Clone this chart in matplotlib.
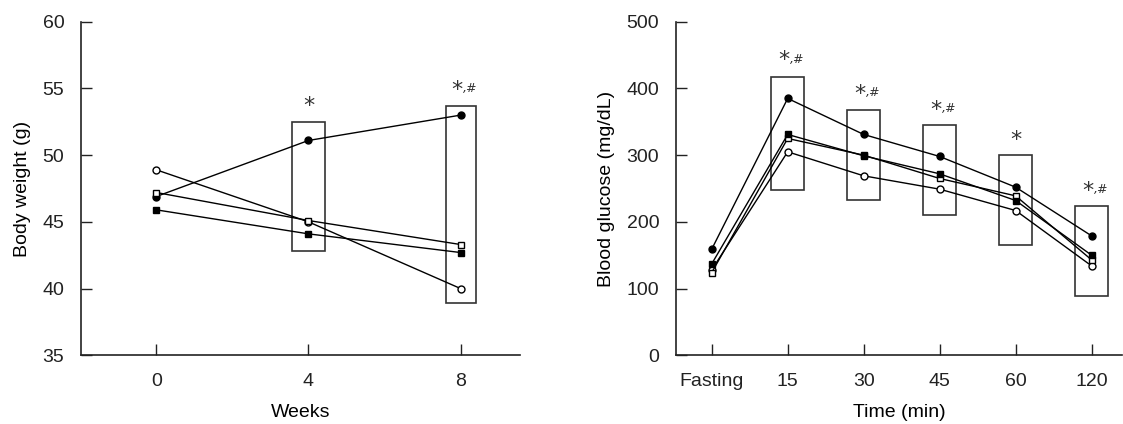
import matplotlib
matplotlib.use('Agg')
import matplotlib.pyplot as plt
from matplotlib.patches import Rectangle

plt.rcParams['font.family'] = ['Liberation Sans Narrow', 'Liberation Sans', 'DejaVu Sans']

# body weight panel
weeks = [0, 4, 8]
bw_filled_circle = [46.9, 51.1, 53.0]
bw_open_circle = [48.9, 45.0, 40.0]
bw_open_square = [47.2, 45.1, 43.3]
bw_filled_square = [45.9, 44.1, 42.7]
bw_box_weeks = [4, 8]
bw_box_low = [42.8, 38.9]
bw_box_high = [52.45, 53.7]
bw_marks = ['*', '*,#']
bw_mark_y = [53.7, 54.9]

# glucose panel
times = ['Fasting', '15', '30', '45', '60', '120']
bg_filled_circle = [159, 385, 331, 298, 252, 179]
bg_filled_square = [137, 331, 299, 272, 232, 150]
bg_open_square = [124, 325, 300, 265, 239, 143]
bg_open_circle = [128, 305, 269, 249, 217, 134]
bg_box_idx = [1, 2, 3, 4, 5]
bg_box_low = [247.7, 232.8, 210.3, 165.3, 88.9]
bg_box_high = [417.6, 367.6, 345.0, 300.7, 223.8]
bg_marks = ['*,#', '*,#', '*,#', '*', '*,#']
bg_mark_y = [442, 392, 368, 323, 246]

BOX_COLOR = '#333333'


def draw_series(ax, x, ys):
    styles = [('o', 'black'), ('o', 'white'), ('s', 'white'), ('s', 'black')]
    for y, (m, fc) in zip(ys, styles):
        ax.plot(x, y, color='black', lw=1.0, marker=m, markersize=5,
                markerfacecolor=fc, markeredgecolor='black', markeredgewidth=1.0, zorder=3)


def mark(ax, x, y, s):
    if s == '*':
        ax.text(x, y, '*', ha='center', va='center', fontsize=16, family='DejaVu Sans', color='#333333')
    else:
        # asterisk followed by a small comma and a raised sharp sign
        ax.annotate('*', (x, y), xytext=(-3, 0), textcoords='offset points', ha='center', va='center',
                    fontsize=16, family='DejaVu Sans', color='#333333')
        ax.annotate(',#', (x, y), xytext=(1.5, 1), textcoords='offset points', ha='left', va='center',
                    fontsize=9, style='italic', family='DejaVu Sans', color='#333333')


def style_axes(ax):
    ax.spines['top'].set_visible(False)
    ax.spines['right'].set_visible(False)
    for sp in ('left', 'bottom'):
        ax.spines[sp].set_linewidth(1.2)
        ax.spines[sp].set_color('#222222')
    ax.tick_params(direction='in', length=8, width=1.0, labelsize=14, colors='#222222')
    ax.tick_params(axis='y', pad=12)
    ax.tick_params(axis='x', pad=13)


fig = plt.figure(figsize=(11.23, 4.24), dpi=100)

ax1 = fig.add_axes([81 / 1123, 1 - 355.3 / 424, (520 - 81) / 1123, (355.3 - 21.7) / 424])
draw_series(ax1, weeks, [bw_filled_circle, bw_open_circle, bw_open_square, bw_filled_square])
box_w1 = [0.89, 0.79]
for w, lo, hi, bw in zip(bw_box_weeks, bw_box_low, bw_box_high, box_w1):
    ax1.add_patch(Rectangle((w - bw / 2, lo), bw, hi - lo, fill=False, ec=BOX_COLOR, lw=1.2, zorder=2))
for w, y, s in zip(bw_box_weeks, bw_mark_y, bw_marks):
    mark(ax1, w, y, s)
ax1.set_xlim(-1.98, 9.56)
ax1.set_ylim(35, 60)
ax1.set_xticks(weeks)
ax1.set_yticks([35, 40, 45, 50, 55, 60])
ax1.set_xlabel('Weeks', fontsize=14, labelpad=10)
ax1.set_ylabel('Body weight (g)', fontsize=14, labelpad=8)
style_axes(ax1)

ax2 = fig.add_axes([676 / 1123, 1 - 355.3 / 424, (1122 - 676) / 1123, (355.3 - 21.7) / 424])
xs = list(range(len(times)))
draw_series(ax2, xs, [bg_filled_circle, bg_open_circle, bg_open_square, bg_filled_square])
bw2 = 0.433
for i, lo, hi in zip(bg_box_idx, bg_box_low, bg_box_high):
    ax2.add_patch(Rectangle((i - bw2 / 2, lo), bw2, hi - lo, fill=False, ec=BOX_COLOR, lw=1.2, zorder=2))
for i, y, s in zip(bg_box_idx, bg_mark_y, bg_marks):
    mark(ax2, i, y, s)
ax2.set_xlim(-0.47, 5.40)
ax2.set_ylim(0, 500)
ax2.set_xticks(xs)
ax2.set_xticklabels(times)
ax2.set_yticks([0, 100, 200, 300, 400, 500])
ax2.set_xlabel('Time (min)', fontsize=14, labelpad=10)
ax2.set_ylabel('Blood glucose (mg/dL)', fontsize=14, labelpad=8)
style_axes(ax2)

fig.savefig('out.png', dpi=100)
